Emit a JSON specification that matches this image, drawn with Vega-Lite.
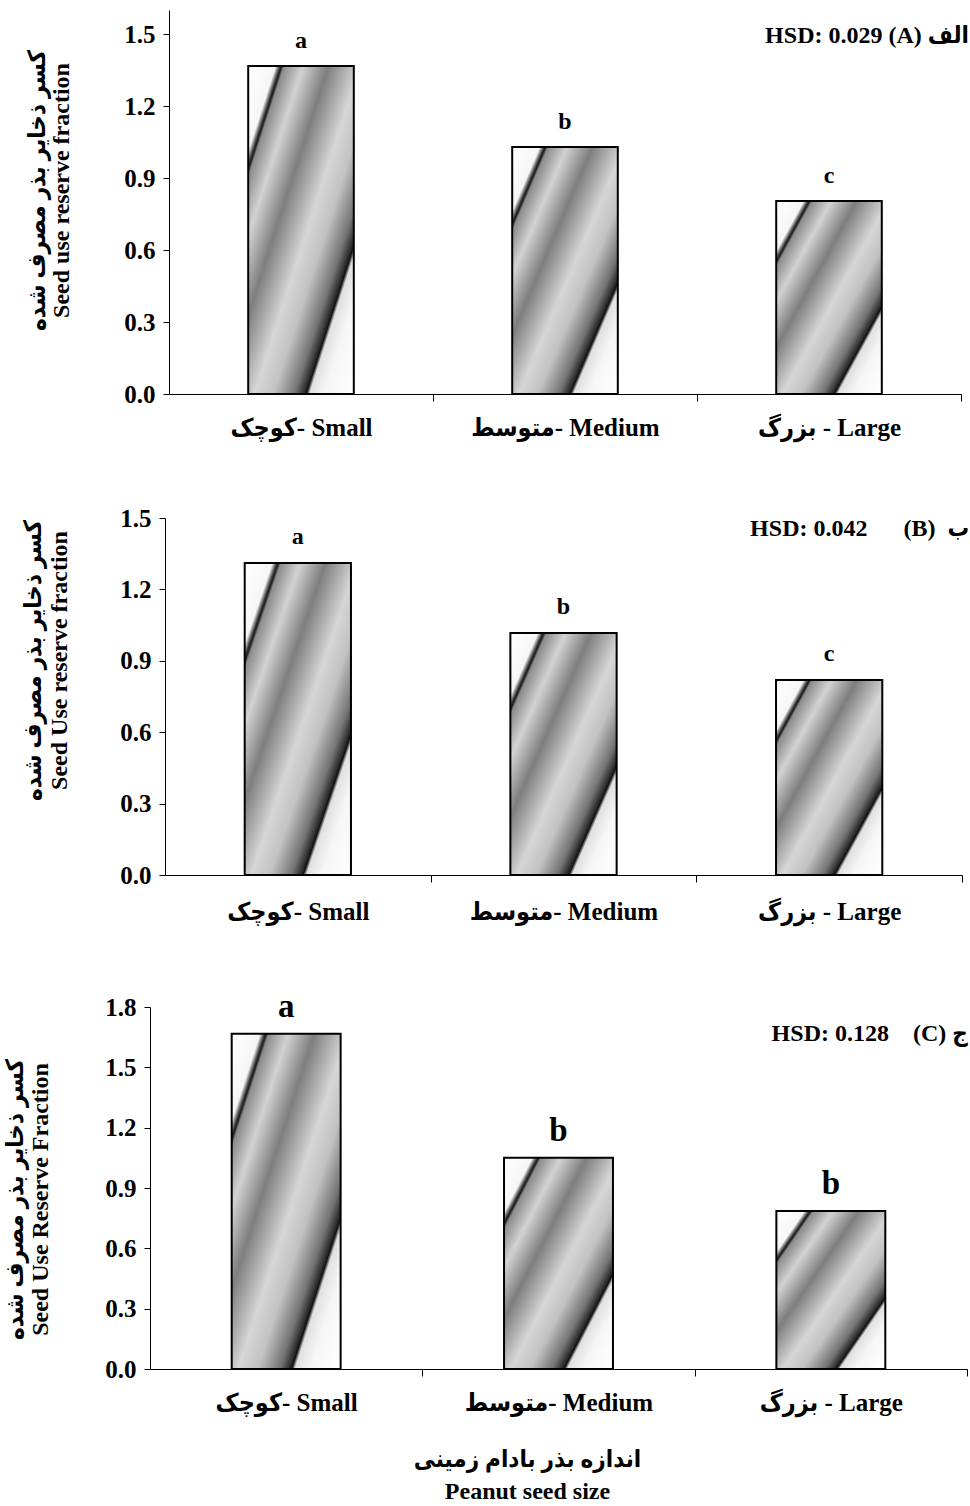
{
  "$schema": "https://vega.github.io/schema/vega-lite/v6.json",
  "padding": {"left": 3, "top": 10, "right": 0, "bottom": 0},
  "background": "white",
  "config": {
    "view": {"stroke": null},
    "font": "Liberation Serif, DejaVu Sans Condensed, DejaVu Sans",
    "axis": {
      "labelFont": "Liberation Serif, DejaVu Sans Condensed, DejaVu Sans",
      "labelFontSize": 25,
      "labelFontWeight": "bold",
      "labelColor": "black",
      "labelLimit": 0,
      "titleFont": "Liberation Serif, DejaVu Sans Condensed, DejaVu Sans",
      "titleFontSize": 24,
      "titleFontWeight": "bold",
      "titleColor": "black",
      "domainColor": "black",
      "tickColor": "black",
      "grid": false
    },
    "text": {"font": "Liberation Serif, DejaVu Sans Condensed, DejaVu Sans", "fontWeight": "bold", "color": "black"}
  },
  "datasets": {
    "p1": [
      {"label": "کوچک- Small", "value": 1.367, "letter": "a"},
      {"label": "متوسط- Medium", "value": 1.029, "letter": "b"},
      {"label": "بزرگ - Large", "value": 0.804, "letter": "c"}
    ],
    "p2": [
      {"label": "کوچک- Small", "value": 1.311, "letter": "a"},
      {"label": "متوسط- Medium", "value": 1.017, "letter": "b"},
      {"label": "بزرگ - Large", "value": 0.819, "letter": "c"}
    ],
    "p3": [
      {"label": "کوچک- Small", "value": 1.667, "letter": "a"},
      {"label": "متوسط- Medium", "value": 1.05, "letter": "b"},
      {"label": "بزرگ - Large", "value": 0.786, "letter": "b"}
    ]
  },
  "spacing": 66,
  "vconcat": [
    {
      "width": 817,
      "height": 384,
      "data": {"name": "p1"},
      "layer": [
        {
          "mark": {"type": "bar", "stroke": "black", "strokeWidth": 2,
            "fill": {"gradient": "linear", "x1": 0, "y1": 0, "x2": 1, "y2": 1, "stops": [
              {"offset": 0, "color": "#ffffff"}, {"offset": 0.13, "color": "#f6f6f6"},
              {"offset": 0.15, "color": "#444444"}, {"offset": 0.158, "color": "#1a1a1a"},
              {"offset": 0.17, "color": "#8c8c8c"}, {"offset": 0.26, "color": "#d2d2d2"},
              {"offset": 0.38, "color": "#7e7e7e"}, {"offset": 0.53, "color": "#d6d6d6"},
              {"offset": 0.62, "color": "#c2c2c2"}, {"offset": 0.72, "color": "#747474"},
              {"offset": 0.765, "color": "#2a2a2a"}, {"offset": 0.775, "color": "#101010"},
              {"offset": 0.79, "color": "#e0e0e0"}, {"offset": 0.86, "color": "#f6f6f6"},
              {"offset": 1, "color": "#ffffff"}]}},
          "encoding": {
            "x": {"field": "label", "type": "nominal", "sort": null,
              "scale": {"range": [19, 811], "paddingInner": 0.6, "paddingOuter": 0.3},
              "axis": {"title": null, "labelAngle": 0, "bandPosition": 1, "tickOffset": 79.2, "labelOffset": -79.2, "tickSize": 7, "labelPadding": 14}},
            "y": {"field": "value", "type": "quantitative",
              "scale": {"domain": [0, 1.6], "nice": false},
              "axis": {"values": [0, 0.3, 0.6, 0.9, 1.2, 1.5], "format": ".1f", "offset": -19, "tickSize": 6, "labelPadding": 8,
                "title": ["کسر ذخایر بذر مصرف شده", "Seed use reserve fraction"], "titleLineHeight": 24, "titlePadding": 50, "titleY": 180}}
          }
        },
        {
          "mark": {"type": "text", "dy": -18, "fontSize": 24, "baseline": "alphabetic"},
          "encoding": {
            "x": {"field": "label", "type": "nominal", "sort": null},
            "y": {"field": "value", "type": "quantitative"},
            "text": {"field": "letter"}
          }
        },
        {
          "data": {"values": [{"t": "HSD: 0.029 (A) الف"}]},
          "mark": {"type": "text", "align": "right", "dx": 140, "fontSize": 24, "baseline": "middle"},
          "encoding": {
            "x": {"datum": "بزرگ - Large"},
            "y": {"datum": 1.49},
            "text": {"field": "t"}
          }
        }
      ]
    },
    {
      "width": 817,
      "height": 357,
      "data": {"name": "p2"},
      "layer": [
        {
          "mark": {"type": "bar", "stroke": "black", "strokeWidth": 2,
            "fill": {"gradient": "linear", "x1": 0, "y1": 0, "x2": 1, "y2": 1, "stops": [
              {"offset": 0, "color": "#ffffff"}, {"offset": 0.13, "color": "#f6f6f6"},
              {"offset": 0.15, "color": "#444444"}, {"offset": 0.158, "color": "#1a1a1a"},
              {"offset": 0.17, "color": "#8c8c8c"}, {"offset": 0.26, "color": "#d2d2d2"},
              {"offset": 0.38, "color": "#7e7e7e"}, {"offset": 0.53, "color": "#d6d6d6"},
              {"offset": 0.62, "color": "#c2c2c2"}, {"offset": 0.72, "color": "#747474"},
              {"offset": 0.765, "color": "#2a2a2a"}, {"offset": 0.775, "color": "#101010"},
              {"offset": 0.79, "color": "#e0e0e0"}, {"offset": 0.86, "color": "#f6f6f6"},
              {"offset": 1, "color": "#ffffff"}]}},
          "encoding": {
            "x": {"field": "label", "type": "nominal", "sort": null,
              "scale": {"range": [15, 812], "paddingInner": 0.6, "paddingOuter": 0.3},
              "axis": {"title": null, "labelAngle": 0, "bandPosition": 1, "tickOffset": 79.7, "labelOffset": -79.7, "tickSize": 7, "labelPadding": 17}},
            "y": {"field": "value", "type": "quantitative",
              "scale": {"domain": [0, 1.5], "nice": false},
              "axis": {"values": [0, 0.3, 0.6, 0.9, 1.2, 1.5], "format": ".1f", "offset": -15, "tickSize": 6, "labelPadding": 8,
                "title": ["کسر ذخایر بذر مصرف شده", "Seed Use reserve fraction"], "titleLineHeight": 26, "titlePadding": 48, "titleY": 142}}
          }
        },
        {
          "mark": {"type": "text", "dy": -19, "fontSize": 24, "baseline": "alphabetic"},
          "encoding": {
            "x": {"field": "label", "type": "nominal", "sort": null},
            "y": {"field": "value", "type": "quantitative"},
            "text": {"field": "letter"}
          }
        },
        {
          "data": {"values": [{"t": "HSD: 0.042\u00a0\u00a0\u00a0\u00a0\u00a0 (B)\u00a0 ب"}]},
          "mark": {"type": "text", "align": "right", "dx": 140, "fontSize": 24, "baseline": "middle"},
          "encoding": {
            "x": {"datum": "بزرگ - Large"},
            "y": {"datum": 1.454},
            "text": {"field": "t"}
          }
        }
      ]
    },
    {
      "width": 817,
      "height": 362,
      "data": {"name": "p3"},
      "layer": [
        {
          "mark": {"type": "bar", "stroke": "black", "strokeWidth": 2,
            "fill": {"gradient": "linear", "x1": 0, "y1": 0, "x2": 1, "y2": 1, "stops": [
              {"offset": 0, "color": "#ffffff"}, {"offset": 0.13, "color": "#f6f6f6"},
              {"offset": 0.15, "color": "#444444"}, {"offset": 0.158, "color": "#1a1a1a"},
              {"offset": 0.17, "color": "#8c8c8c"}, {"offset": 0.26, "color": "#d2d2d2"},
              {"offset": 0.38, "color": "#7e7e7e"}, {"offset": 0.53, "color": "#d6d6d6"},
              {"offset": 0.62, "color": "#c2c2c2"}, {"offset": 0.72, "color": "#747474"},
              {"offset": 0.765, "color": "#2a2a2a"}, {"offset": 0.775, "color": "#101010"},
              {"offset": 0.79, "color": "#e0e0e0"}, {"offset": 0.86, "color": "#f6f6f6"},
              {"offset": 1, "color": "#ffffff"}]}},
          "encoding": {
            "x": {"field": "label", "type": "nominal", "sort": null,
              "scale": {"paddingInner": 0.6, "paddingOuter": 0.3},
              "axis": {"labelAngle": 0, "bandPosition": 1, "tickOffset": 81.7, "labelOffset": -81.7, "tickSize": 7, "labelPadding": 14,
                "title": ["اندازه بذر بادام زمینی", "Peanut seed size"], "titleLineHeight": 32, "titlePadding": 32, "titleX": 377}},
            "y": {"field": "value", "type": "quantitative",
              "scale": {"domain": [0, 1.8], "nice": false},
              "axis": {"values": [0, 0.3, 0.6, 0.9, 1.2, 1.5, 1.8], "format": ".1f", "tickSize": 6, "labelPadding": 8,
                "title": ["کسر ذخایر بذر مصرف شده", "Seed Use Reserve Fraction"], "titleLineHeight": 25, "titlePadding": 52, "titleY": 192}}
          }
        },
        {
          "mark": {"type": "text", "dy": -17, "fontSize": 33, "baseline": "alphabetic"},
          "encoding": {
            "x": {"field": "label", "type": "nominal", "sort": null},
            "y": {"field": "value", "type": "quantitative"},
            "text": {"field": "letter"}
          }
        },
        {
          "data": {"values": [{"t": "HSD: 0.128\u00a0\u00a0\u00a0 (C) ج"}]},
          "mark": {"type": "text", "align": "right", "dx": 137, "fontSize": 24, "baseline": "middle"},
          "encoding": {
            "x": {"datum": "بزرگ - Large"},
            "y": {"datum": 1.667},
            "text": {"field": "t"}
          }
        }
      ]
    }
  ]
}
